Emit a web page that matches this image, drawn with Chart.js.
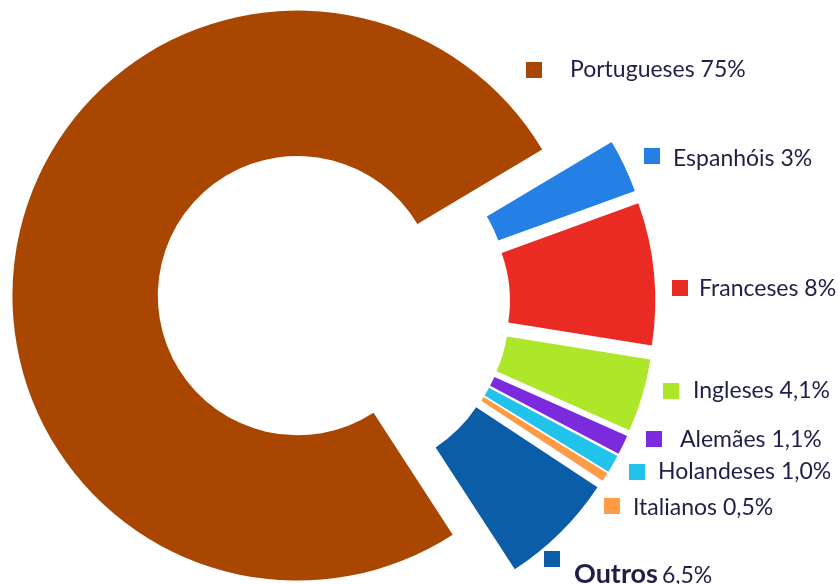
<!DOCTYPE html>
<html>
<head>
<meta charset="utf-8">
<script src="https://cdn.jsdelivr.net/npm/chart.js@4.4.1/dist/chart.umd.min.js"></script>
<style>
  html, body { margin: 0; padding: 0; background: #fff; }
  #wrap { width: 838px; height: 584px; position: relative; }
</style>
</head>
<body>
<div id="wrap"><canvas id="nationChart"></canvas></div>
<script>
// ── data ──────────────────────────────────────────────
const nations = ['Portugueses', 'Espanhóis', 'Franceses', 'Ingleses', 'Alemães', 'Holandeses', 'Italianos', 'Outros'];
const shares = [75, 3, 8, 4.1, 1.1, 1.0, 0.5, 6.5];
const shareLabels = ['75%', '3%', '8%', '4,1%', '1,1%', '1,0%', '0,5%', '6,5%'];
const sliceColors = ['#a84602', '#2480e5', '#e92b24', '#aee62a', '#7b2bdb', '#22c3eb', '#ff9a45', '#0c5da8'];

// ── layout ────────────────────────────────────────────
// label spots: [square left, square top, text x, text baseline]
const labelSpots = [
    [526, 62, 570, 77],
    [644, 148, 673, 166],
    [672, 280, 699, 296],
    [663, 383, 693, 398],
    [646, 431, 680, 447],
    [629, 464, 658, 479],
    [604, 498, 633, 515],
    [544, 551, 574, 583]
];
const EXPLODE = 37;          // px every slice is pushed out along its bisector
const TEXT_COLOR = '#1f1f47';

// pure translate of every arc (Excel style explosion)
const explode = {
    id: 'explode',
    afterDatasetUpdate(chart, args) {
        args.meta.data.forEach(arc => {
            const mid = (arc.startAngle + arc.endAngle) / 2;
            arc.x += EXPLODE * Math.cos(mid);
            arc.y += EXPLODE * Math.sin(mid);
        });
    }
};

// legend keys + texts next to the slices
const sideLabels = {
    id: 'sideLabels',
    afterDraw(chart) {
        const ctx = chart.ctx;
        ctx.save();
        ctx.textBaseline = 'alphabetic';
        nations.forEach((name, i) => {
            const [bx, by, tx, ty] = labelSpots[i];
            ctx.fillStyle = sliceColors[i];
            ctx.fillRect(bx, by, 16, 16);
            ctx.fillStyle = TEXT_COLOR;
            if (i === nations.length - 1) {
                ctx.font = 'bold 27px Lato';
                ctx.fillText(name, tx, ty);
                const w = ctx.measureText(name).width;
                ctx.font = '23px Lato';
                ctx.fillText(shareLabels[i], tx + w + 4, ty);
            } else {
                ctx.font = '23px Lato';
                ctx.fillText(name + ' ' + shareLabels[i], tx, ty);
            }
        });
        ctx.restore();
    }
};

new Chart(document.getElementById('nationChart'), {
    type: 'doughnut',
    data: {
        labels: nations,
        datasets: [{
            data: shares,
            backgroundColor: sliceColors,
            borderWidth: 0,
            hoverOffset: 0
        }]
    },
    options: {
        responsive: true,
        maintainAspectRatio: false,
        animation: false,
        events: [],
        rotation: 147,
        radius: 285,
        cutout: '49%',
        layout: {padding: {left: 0, right: 171, top: 24, bottom: 0}},
        plugins: {
            legend: {display: false},
            tooltip: {enabled: false}
        }
    },
    plugins: [explode, sideLabels]
});
</script>
</body>
</html>
